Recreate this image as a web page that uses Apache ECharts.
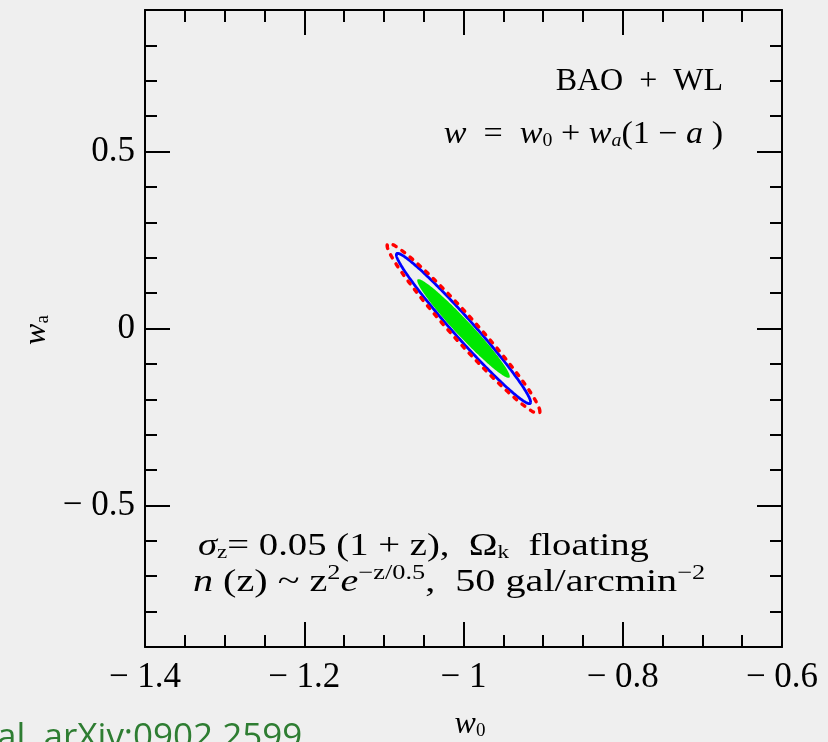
<!DOCTYPE html>
<html>
<head>
<meta charset="utf-8">
<script src="https://cdn.jsdelivr.net/npm/echarts@6.0.0/dist/echarts.min.js"></script>
<style>
  html, body { margin: 0; padding: 0; background: #efefef; }
  #chart { width: 828px; height: 742px; }
</style>
</head>
<body>
<div id="chart"></div>
<script>
// Axis extents, tick positions and tick labels
const xRange = [-1.4, -0.6];
const yRange = [-0.9, 0.9];
const xMajorTicks = [-1.4, -1.2, -1.0, -0.8, -0.6];
const xTickLabels = ['− 1.4', '− 1.2', '− 1', '− 0.8', '− 0.6'];
const xMinorTicks = [-1.35, -1.3, -1.25, -1.15, -1.1, -1.05, -0.95, -0.9, -0.85, -0.75, -0.7, -0.65];
const yMajorTicks = [-0.5, 0, 0.5];
const yTickLabels = ['− 0.5', '0', '0.5'];
const yMinorTicks = [-0.8, -0.7, -0.6, -0.4, -0.3, -0.2, -0.1, 0.1, 0.2, 0.3, 0.4, 0.6, 0.7, 0.8];

// Forecast error ellipses in the (w0, wa) plane: fiducial point, marginal
// half-widths along each parameter and the w0–wa correlation coefficient
const contourNames = ['outer', 'middle', 'inner'];
const contourW0 = [-1.0, -1.0, -1.0];
const contourWa = [0.0, 0.0, 0.0];
const contourSigmaW0 = [0.0959, 0.0843, 0.0581];
const contourSigmaWa = [0.2403, 0.2123, 0.1394];
const contourCorr = [-0.9757, -0.9801, -0.9719];

const serif = "'Liberation Serif', 'Times New Roman', serif";

function ellipseRenderer(styleFn) {
  return function (params, api) {
    const cx = api.value(0), cy = api.value(1);
    const sx = api.value(2), sy = api.value(3), r = api.value(4);
    const q = Math.sqrt(1 - r * r);
    const pts = [];
    const n = 240;
    for (let i = 0; i <= n; i++) {
      const t = 2 * Math.PI * i / n;
      const dx = sx * Math.cos(t);
      const dy = sy * (r * Math.cos(t) + q * Math.sin(t));
      pts.push(api.coord([cx + dx, cy + dy]));
    }
    return styleFn(pts);
  };
}

function contourData(i) {
  return [[contourW0[i], contourWa[i], contourSigmaW0[i], contourSigmaWa[i], contourCorr[i]]];
}

const tickStyle = { color: '#000', width: 2 };

function labelFor(values, labels) {
  return function (v) {
    for (let i = 0; i < values.length; i++) {
      if (Math.abs(values[i] - v) < 1e-6) return labels[i];
    }
    return '';
  };
}

const baseX = { type: 'value', min: xRange[0], max: xRange[1], splitLine: { show: false } };
const baseY = { type: 'value', min: yRange[0], max: yRange[1], splitLine: { show: false } };

const xAxes = [
  Object.assign({}, baseX, {
    position: 'bottom',
    axisLine: { show: true, onZero: false, lineStyle: { color: '#000', width: 2 } },
    axisTick: { show: true, inside: true, length: 25, lineStyle: tickStyle, customValues: xMajorTicks },
    axisLabel: {
      show: true, customValues: xMajorTicks, formatter: labelFor(xMajorTicks, xTickLabels),
      fontFamily: serif, fontSize: 35, color: '#000', margin: 13,
      showMinLabel: true, showMaxLabel: true, hideOverlap: false
    }
  }),
  Object.assign({}, baseX, {
    position: 'bottom',
    axisLine: { show: false, onZero: false },
    axisTick: { show: true, inside: true, length: 12, lineStyle: tickStyle, customValues: xMinorTicks },
    axisLabel: { show: false }
  }),
  Object.assign({}, baseX, {
    position: 'top',
    axisLine: { show: true, onZero: false, lineStyle: { color: '#000', width: 2 } },
    axisTick: { show: true, inside: true, length: 25, lineStyle: tickStyle, customValues: xMajorTicks },
    axisLabel: { show: false }
  }),
  Object.assign({}, baseX, {
    position: 'top',
    axisLine: { show: false, onZero: false },
    axisTick: { show: true, inside: true, length: 12, lineStyle: tickStyle, customValues: xMinorTicks },
    axisLabel: { show: false }
  })
];

const yAxes = [
  Object.assign({}, baseY, {
    position: 'left',
    axisLine: { show: true, onZero: false, lineStyle: { color: '#000', width: 2 } },
    axisTick: { show: true, inside: true, length: 25, lineStyle: tickStyle, customValues: yMajorTicks },
    axisLabel: {
      show: true, customValues: yMajorTicks, formatter: labelFor(yMajorTicks, yTickLabels),
      fontFamily: serif, fontSize: 35, color: '#000', margin: 10,
      showMinLabel: true, showMaxLabel: true, hideOverlap: false
    }
  }),
  Object.assign({}, baseY, {
    position: 'left',
    axisLine: { show: false, onZero: false },
    axisTick: { show: true, inside: true, length: 12, lineStyle: tickStyle, customValues: yMinorTicks },
    axisLabel: { show: false }
  }),
  Object.assign({}, baseY, {
    position: 'right',
    axisLine: { show: true, onZero: false, lineStyle: { color: '#000', width: 2 } },
    axisTick: { show: true, inside: true, length: 25, lineStyle: tickStyle, customValues: yMajorTicks },
    axisLabel: { show: false }
  }),
  Object.assign({}, baseY, {
    position: 'right',
    axisLine: { show: false, onZero: false },
    axisTick: { show: true, inside: true, length: 12, lineStyle: tickStyle, customValues: yMinorTicks },
    axisLabel: { show: false }
  })
];

const series = [
  {
    name: contourNames[2], type: 'custom', xAxisIndex: 0, yAxisIndex: 0, z: 2,
    encode: { x: 0, y: 1 }, data: contourData(2),
    renderItem: ellipseRenderer(pts => ({
      type: 'polygon', shape: { points: pts },
      style: { fill: '#00e800', stroke: null }
    }))
  },
  {
    name: contourNames[1], type: 'custom', xAxisIndex: 0, yAxisIndex: 0, z: 3,
    encode: { x: 0, y: 1 }, data: contourData(1),
    renderItem: ellipseRenderer(pts => ({
      type: 'polyline', shape: { points: pts },
      style: { fill: null, stroke: '#0000ff', lineWidth: 2.8 }
    }))
  },
  {
    name: contourNames[0], type: 'custom', xAxisIndex: 0, yAxisIndex: 0, z: 4,
    encode: { x: 0, y: 1 }, data: contourData(0),
    renderItem: ellipseRenderer(pts => ({
      type: 'polyline', shape: { points: pts },
      style: { fill: null, stroke: '#ff0000', lineWidth: 3.4, lineDash: [3.5, 7], lineCap: 'round' }
    }))
  }
];

function makeRich(fs) {
  const sub = Math.round(fs * 0.58);
  return {
    r: { fontFamily: serif, fontSize: fs, lineHeight: fs + 10, verticalAlign: 'bottom' },
    i: { fontFamily: serif, fontSize: fs, fontStyle: 'italic', lineHeight: fs + 10, verticalAlign: 'bottom' },
    sub: { fontFamily: serif, fontSize: sub, lineHeight: sub + 3, verticalAlign: 'bottom' },
    subi: { fontFamily: serif, fontSize: sub, fontStyle: 'italic', lineHeight: sub + 3, verticalAlign: 'bottom' },
    sup: { fontFamily: serif, fontSize: sub + 2, lineHeight: fs + 10, verticalAlign: 'bottom', padding: [0, 0, Math.round(fs * 0.48), 0] }
  };
}

const graphic = [
  {
    type: 'text', x: 723, y: 82,
    style: { text: 'BAO  +  WL', align: 'right', verticalAlign: 'middle', fontFamily: serif, fontSize: 32, fill: '#000' }
  },
  {
    type: 'text', x: 723, y: 130, scaleX: 1.1,
    style: {
      text: '{i|w}{r|  =  }{i|w}{sub|0}{r| + }{i|w}{subi|a}{r|(1 − }{i|a}{r| )}',
      rich: makeRich(31), align: 'right', verticalAlign: 'middle', fill: '#000'
    }
  },
  {
    type: 'text', x: 198, y: 542, scaleX: 1.21,
    style: {
      text: '{i|σ}{sub|z}{r|= 0.05 (1 + z),  Ω}{sub|k}{r|  floating}',
      rich: makeRich(32), align: 'left', verticalAlign: 'middle', fill: '#000'
    }
  },
  {
    type: 'text', x: 193, y: 578, scaleX: 1.255,
    style: {
      text: '{i|n}{r| (z) ~ z}{sup|2}{i|e}{sup|−z/0.5}{r|,  50 gal/arcmin}{sup|−2}',
      rich: makeRich(32), align: 'left', verticalAlign: 'middle', fill: '#000'
    }
  },
  {
    type: 'text', x: 470, y: 720,
    style: {
      text: '{i|w}{sub|0}',
      rich: makeRich(32), align: 'center', verticalAlign: 'middle', fill: '#000'
    }
  },
  {
    type: 'text', x: 32, y: 330, rotation: Math.PI / 2,
    style: {
      text: '{i|w}{sub|a}',
      rich: makeRich(32), align: 'center', verticalAlign: 'middle', fill: '#000'
    }
  },
  {
    type: 'text', x: -3, y: 738,
    style: {
      text: 'al. arXiv:0902.2599', align: 'left', verticalAlign: 'middle',
      fontFamily: "'Open Sans', 'Noto Sans', sans-serif", fontSize: 35, fill: '#2e7d32'
    }
  }
];

const chart = echarts.init(document.getElementById('chart'), null, { renderer: 'canvas' });
chart.setOption({
  backgroundColor: '#efefef',
  animation: false,
  grid: { left: 145, top: 10, width: 637, height: 637, outerBoundsMode: 'none', containLabel: false },
  xAxis: xAxes,
  yAxis: yAxes,
  series: series,
  graphic: graphic
});
</script>
</body>
</html>
